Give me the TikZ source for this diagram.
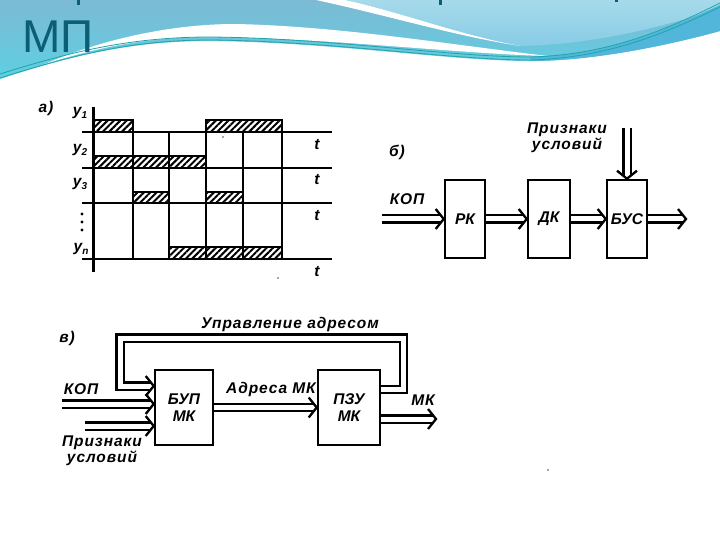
\documentclass[tikz,border=0pt]{standalone}
\usepackage{fontspec}
\setmainfont{Liberation Sans}
\usetikzlibrary{arrows.meta,patterns.meta}
\definecolor{titlec}{HTML}{0B5E74}
\definecolor{bgA}{HTML}{7CBAD4}
\definecolor{bgB}{HTML}{5ECFE2}
\definecolor{bgR}{HTML}{A6DAEA}
\definecolor{bgR2}{HTML}{88CCE6}
\definecolor{bandc}{HTML}{52B6DA}
\definecolor{tealc}{HTML}{1EA5A8}
\newcommand\dfont{\fontsize{15.5}{16}\selectfont\bfseries\itshape\addfontfeature{LetterSpace=6}}
\newcommand\bfont{\fontsize{15.5}{17}\selectfont\bfseries\itshape}
\begin{document}
\begin{tikzpicture}[x=1pt,y=-1pt,
  lbl/.style={font=\dfont, inner sep=0},
  box/.style={draw, line width=2.6pt, inner sep=0, font=\bfont, align=center},
  dbl/.style={double distance=5pt, line width=2.3pt, shorten >=2.6pt},
  chev/.pic={\draw[line width=2.3pt, miter limit=10] (-8pt,-10pt) -- (0,0) -- (-8pt,10pt);},
  tl/.style={line width=2.7pt},
  pulse/.style={line width=2.8pt, pattern={Lines[angle=45,distance=4.5pt,line width=2pt]}},
  speck/.style={fill=black!70, draw=none, circle, inner sep=0, minimum size=1.6pt}
]
\useasboundingbox (0,0) rectangle (720,540);
\fill[white] (0,0) rectangle (720,540);

% ---------- background decoration ----------
\path[top color=bgA, bottom color=bgB]
  (0,0) -- (720,0) -- (720,31)
  .. controls (680,42) and (600,61) .. (530,61)
  .. controls (450,61) and (330,42) .. (210,41)
  .. controls (130,41) and (70,56) .. (0,79) -- cycle;
\path[top color=bgR, bottom color=bgR2]
  (345,0) -- (720,0) -- (720,8)
  .. controls (650,32) and (580,45) .. (520,46)
  .. controls (460,35) and (400,12) .. (345,0) -- cycle;
\fill[white] (316,0) .. controls (390,16) and (455,36) .. (520,46)
  .. controls (460,35) and (400,12) .. (345,0) -- cycle;
\fill[white] (45,64) .. controls (100,40) and (170,24) .. (235,24)
  .. controls (340,26) and (460,46) .. (548,56)
  .. controls (460,54) and (330,38) .. (210,37)
  .. controls (140,37) and (90,50) .. (45,64) -- cycle;
\fill[bandc] (530,57) .. controls (610,55) and (670,28) .. (720,5)
  -- (720,31) .. controls (680,42) and (600,61) .. (530,61) -- cycle;
\draw[tealc, line width=0.8pt] (0,74) .. controls (70,52) and (130,37) .. (210,37)
  .. controls (330,38) and (450,57) .. (530,57)
  .. controls (610,55) and (670,28) .. (720,3);
\draw[tealc, line width=0.8pt] (0,78) .. controls (70,56) and (130,40) .. (210,40)
  .. controls (330,41) and (450,60) .. (530,60)
  .. controls (610,58) and (670,31) .. (720,7);
\node[anchor=base west, font=\fontsize{46}{46}\selectfont, text=titlec, inner sep=0] (title) at (22,53) {МП};
\fill[titlec] (77,0) rectangle (80,5);
\fill[titlec] (439,0) rectangle (442,5);
\fill[titlec] (615,0) rectangle (618,2);

% ---------- panel a ----------
\node[lbl] (la) at (46,108) {а)};
\foreach \y in {132,168,203,259} \draw[tl] (82,\y) -- (332,\y);
\draw[line width=3pt] (93,107) -- (93,272);
\draw[tl] (133,120) -- (133,259);
\draw[tl] (169,132) -- (169,259);
\draw[tl] (206,120) -- (206,259);
\draw[tl] (243,132) -- (243,259);
\draw[tl] (282,120) -- (282,259);
\draw[pulse] (93,120) rectangle (133,132);
\draw[pulse] (206,120) rectangle (282,132);
\draw[pulse] (93,156) rectangle (206,168);
\draw[pulse] (133,192) rectangle (169,203);
\draw[pulse] (206,192) rectangle (243,203);
\draw[pulse] (169,247) rectangle (282,259);
\node[lbl] (y1) at (80,113) {y\raisebox{-0.35ex}{\fontsize{10}{10}\selectfont 1}};
\node[lbl] (y2) at (80,150) {y\raisebox{-0.35ex}{\fontsize{10}{10}\selectfont 2}};
\node[lbl] (y3) at (80,184) {y\raisebox{-0.35ex}{\fontsize{10}{10}\selectfont 3}};
\node[lbl] (yn) at (81,249) {y\raisebox{-0.35ex}{\fontsize{10}{10}\selectfont n}};
\foreach \y in {214,222,230} \fill (82,\y) circle (1.6pt);
\node[lbl] (t1) at (317,145) {t};
\node[lbl] (t2) at (317,180) {t};
\node[lbl] (t3) at (317,216) {t};
\node[lbl] (t4) at (317,272) {t};
\node[speck] (s1) at (223,137) {};
\node[speck] (s2) at (278,278) {};

% ---------- panel b ----------
\node[lbl] (lb) at (397,152) {б)};
\node[box, minimum width=40pt, minimum height=78pt] (rk) at (465,219) {РК};
\node[box, minimum width=42pt, minimum height=78pt] (dk) at (549,219) {ДК};
\node[box, minimum width=40pt, minimum height=78pt] (bus) at (627,219) {БУС};
\coordinate (kin) at (382,219);
\coordinate (bout) at (686,219);
\coordinate (pin) at (627,128);
\draw[dbl] (kin) -- (rk);
\draw[dbl] (rk) -- (dk);
\draw[dbl] (dk) -- (bus);
\draw[dbl] (bus) -- (bout);
\draw[dbl] (pin) -- (bus);
\pic at (rk.west) {chev};
\pic at (dk.west) {chev};
\pic at (bus.west) {chev};
\pic at (bout) {chev};
\pic[rotate=-90] at (bus.north) {chev};
\node[lbl] (kop1) at (407,199) {КОП};
\node[lbl, align=center] (pr1) at (567,138) {Признаки\\условий};

% ---------- panel c ----------
\node[lbl] (lc) at (67,338) {в)};
\node[box, minimum width=58pt, minimum height=75pt] (bup) at (184,407.5) {БУП\\МК};
\node[box, minimum width=62pt, minimum height=75pt] (pzu) at (349,407.5) {ПЗУ\\МК};
\coordinate (kop2) at (62,404);
\coordinate (pr2) at (85,426);
\coordinate (mkout) at (436,419);
\coordinate (lpA) at (403.5,389.5);
\coordinate (lpB) at (403.5,338);
\coordinate (lpC) at (120,338);
\coordinate (lpD) at (120,386);
\draw[dbl] (kop2) -- (kop2 -| bup.west);
\draw[dbl] (pr2) -- (pr2 -| bup.west);
\draw[dbl] (bup) -- (pzu);
\draw[dbl] (pzu.east |- mkout) -- (mkout);
\draw[dbl] (pzu.east |- lpA) -- (lpA) -- (lpB) -- (lpC) -- (lpD) -- (lpD -| bup.west);
\pic at (kop2 -| bup.west) {chev};
\pic at (pr2 -| bup.west) {chev};
\pic at (pzu.west) {chev};
\pic at (mkout) {chev};
\pic at (lpD -| bup.west) {chev};
\node[lbl] (upr) at (290,324) {Управление адресом};
\node[lbl] (adr) at (271,389) {Адреса МК};
\node[lbl] (mk) at (423,400) {МК};
\node[lbl] (kop3) at (81,389) {КОП};
\node[lbl, align=center] (pr3) at (102,451) {Признаки\\условий};
\node[speck] (s3) at (548,470) {};
\end{tikzpicture}
\end{document}
